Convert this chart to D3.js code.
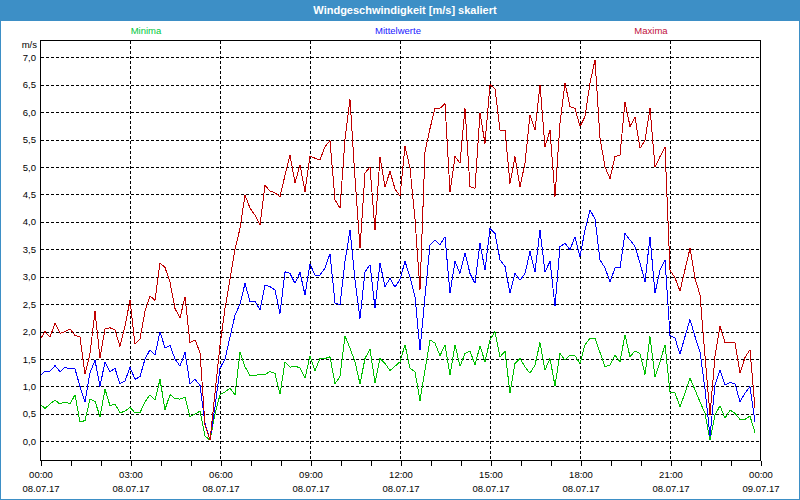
<!DOCTYPE html>
<html><head><meta charset="utf-8">
<script src="https://cdn.jsdelivr.net/npm/d3@7"></script>
<style>body{margin:0;background:#fff}svg{display:block}</style>
</head><body>
<svg id="chart" width="800" height="500"></svg>
<script>
const chartTitle = "Windgeschwindigkeit [m/s] skaliert";
const unitLabel = "m/s";
const seriesNames = ["Minima", "Mittelwerte", "Maxima"];
const startTime = "2017-07-08T00:00:00";
const endTime = "2017-07-09T00:00:00";
const stepMinutes = 10;

const minima = [
0.68,0.6,0.68,0.75,0.68,0.72,0.68,0.85,0.35,0.38,
0.77,0.73,0.45,0.95,0.65,0.68,0.52,0.55,0.62,0.52,
0.52,0.72,0.85,0.75,1.13,0.58,0.85,0.78,0.77,0.8,
0.45,0.5,0.55,0.1,0.02,0.5,0.85,0.9,0.97,0.85,
1.62,1.36,1.2,1.2,1.22,1.22,1.27,1.24,0.86,1.45,
1.35,1.37,1.34,1.15,1.56,1.29,1.51,1.51,1.54,1.05,
1.18,1.92,1.7,1.45,1.05,1.51,1.68,1.07,1.51,1.42,
1.29,1.37,1.45,1.76,1.33,1.27,0.74,1.3,1.85,1.79,
1.56,1.76,1.21,1.76,1.37,1.6,1.65,1.39,1.74,1.45,
1.85,2.0,1.54,1.64,0.88,1.42,1.51,1.36,1.24,1.39,
1.8,1.3,1.51,1.01,1.6,1.48,1.57,1.56,1.42,1.76,
1.88,1.88,1.62,1.36,1.39,1.57,1.45,1.94,1.54,1.65,
1.6,1.22,1.91,1.18,1.45,1.76,0.9,0.88,0.63,0.88,
1.15,0.94,0.72,0.51,0.02,0.48,0.65,0.42,0.57,0.51,
0.4,0.4,0.46,0.16];

const mittelwerte = [
1.2,1.28,1.28,1.38,1.27,1.35,1.32,1.32,1.0,0.72,
1.25,1.48,1.0,1.45,1.27,1.33,1.05,1.1,1.35,1.13,
1.18,1.5,1.67,1.57,2.0,1.7,1.75,1.5,1.37,1.62,
1.05,1.13,1.02,0.33,0.02,0.63,1.33,1.5,1.9,2.3,
2.5,2.88,2.55,2.55,2.4,2.85,2.82,2.76,2.33,3.09,
3.06,2.88,3.08,2.67,3.23,3.03,3.03,3.16,3.42,2.52,
2.49,3.28,3.85,2.94,2.24,3.09,3.22,2.43,3.25,2.82,
2.97,2.81,2.95,3.28,3.0,2.64,1.67,2.64,3.58,3.67,
3.58,3.73,2.7,3.28,3.06,3.43,3.06,2.88,3.61,3.12,
3.88,3.79,3.31,3.19,2.7,3.06,2.94,3.06,3.46,3.09,
3.85,3.09,3.28,2.46,3.55,3.61,3.49,3.73,3.37,3.85,
4.22,4.05,3.31,3.16,2.91,3.16,3.16,3.79,3.67,3.55,
3.25,2.91,3.73,2.7,3.12,3.31,1.93,1.88,1.59,1.91,
2.22,1.91,1.63,0.95,0.1,1.02,1.3,1.03,1.07,1.05,
0.72,0.88,1.0,0.36];

const maxima = [
1.85,2.0,1.9,2.15,1.97,2.0,2.05,1.93,1.9,1.22,
1.6,2.37,1.52,2.05,2.07,2.03,1.73,2.1,2.57,1.77,
1.87,2.37,2.65,2.57,3.25,3.17,2.9,2.42,2.25,2.63,
1.8,1.85,1.62,0.3,0.02,0.88,1.75,2.42,2.95,3.5,
3.88,4.49,4.25,4.12,3.94,4.67,4.56,4.53,4.46,4.85,
5.22,4.71,5.04,4.55,5.2,5.16,5.13,5.37,5.48,4.4,
4.25,5.5,6.23,4.8,3.52,4.89,5.0,3.85,5.18,4.64,
4.92,4.6,4.47,5.38,4.98,4.05,2.76,5.28,5.7,6.07,
6.07,6.16,4.55,5.19,5.07,6.07,4.64,4.61,5.98,5.43,
6.5,6.43,5.67,5.67,4.7,5.19,4.64,5.07,5.95,5.67,
6.5,5.37,5.67,4.46,5.8,6.53,6.1,6.07,5.74,5.92,
6.53,6.95,5.53,5.0,4.79,5.19,5.22,6.19,5.74,5.91,
5.34,5.49,6.07,5.0,5.19,5.36,3.12,2.98,2.74,3.13,
3.52,2.97,2.67,1.55,0.48,1.55,2.1,1.8,1.8,1.8,
1.24,1.53,1.67,0.6];

const yTickValues = [0,0.5,1,1.5,2,2.5,3,3.5,4,4.5,5,5.5,6,6.5,7];
const yDomain = [-0.34, 7.315];
const seriesColors = ["#00c000", "#0000ff", "#c00000"];
const legendColors = ["#00c840", "#2020ff", "#c0103a"];

const W = 800, H = 500;
const plot = {left: 40, right: 760, top: 40, bottom: 460};
const frameColor = "#3d8fc6";
const font = "'Liberation Sans', Arial, sans-serif";

const svg = d3.select("#chart");
svg.append("rect").attr("width", W).attr("height", H).attr("fill", "#ffffff");

const parse = d3.isoParse;
const t0 = parse(startTime), t1 = parse(endTime);
const x = d3.scaleTime().domain([t0, t1]).range([plot.left, plot.right]);
const y = d3.scaleLinear().domain(yDomain).range([plot.bottom, plot.top]);
const timeAt = i => d3.timeMinute.offset(t0, i * stepMinutes);

// title bar
svg.append("rect").attr("x", 0).attr("y", 0).attr("width", W).attr("height", 21).attr("fill", frameColor);
svg.append("rect").attr("x", 0.5).attr("y", 0.5).attr("width", W - 1).attr("height", H - 1)
  .attr("fill", "none").attr("stroke", frameColor).attr("stroke-width", 1);
svg.append("text").attr("x", 405).attr("y", 14).attr("text-anchor", "middle")
  .attr("fill", "#ffffff").attr("font-family", font).attr("font-weight", "bold").attr("font-size", "11px")
  .text(chartTitle);

// legend
const legendX = [146, 398, 651];
seriesNames.forEach((n, k) => {
  svg.append("text").attr("x", legendX[k]).attr("y", 34).attr("text-anchor", "middle")
    .attr("fill", legendColors[k]).attr("font-family", font).attr("font-size", "9.5px").text(n);
});

// grid
const snap = v => Math.round(v) + 0.5;
const grid = svg.append("g").attr("stroke", "#000").attr("stroke-width", 1)
  .attr("stroke-dasharray", "3,2").attr("shape-rendering", "crispEdges");
yTickValues.forEach(v => {
  grid.append("line").attr("x1", plot.left + 1).attr("x2", plot.right).attr("y1", snap(y(v))).attr("y2", snap(y(v)));
});
const hourTicks = d3.timeHour.every(1).range(t0, d3.timeHour.offset(t1, 1));
hourTicks.filter(d => d.getHours() % 3 === 0 && d > t0 && d < t1).forEach(d => {
  grid.append("line").attr("x1", snap(x(d))).attr("x2", snap(x(d))).attr("y1", plot.top + 1).attr("y2", plot.bottom);
});

// series
const line = d3.line().x((d, i) => x(timeAt(i))).y(d => y(d));
[minima, mittelwerte, maxima].forEach((s, k) => {
  svg.append("path").datum(s).attr("d", line).attr("fill", "none")
    .attr("stroke", seriesColors[k]).attr("stroke-width", 1).attr("shape-rendering", "crispEdges");
});

// frame
svg.append("rect").attr("x", plot.left + 0.5).attr("y", plot.top + 0.5)
  .attr("width", plot.right - plot.left).attr("height", plot.bottom - plot.top)
  .attr("fill", "none").attr("stroke", "#000").attr("shape-rendering", "crispEdges");

// x axis
const fTime = d3.timeFormat("%H:%M"), fDate = d3.timeFormat("%d.%m.%y");
const xAxis = d3.axisBottom(x).tickValues(hourTicks).tickSize(5).tickPadding(6).tickFormat(() => "");
const gx = svg.append("g").attr("transform", `translate(0.5,${plot.bottom + 0.5})`).call(xAxis);
gx.select(".domain").remove();
gx.selectAll(".tick line").attr("stroke", "#000").attr("shape-rendering", "crispEdges");
gx.selectAll(".tick text").each(function(d) {
  if (d.getHours() % 3 !== 0) return;
  const t = d3.select(this).attr("font-family", font).attr("font-size", "9.5px").attr("fill", "#000").attr("dy", null).attr("y", 0);
  t.append("tspan").attr("x", 0).attr("y", 17).text(fTime(d));
  t.append("tspan").attr("x", 0).attr("y", 31).text(fDate(d));
});

// y axis
const fY = v => d3.format(".1f")(v).replace(".", ",");
const yAxis = d3.axisLeft(y).tickValues(yTickValues).tickSize(0).tickPadding(4).tickFormat(fY);
const gy = svg.append("g").attr("transform", `translate(${plot.left},0)`).call(yAxis);
gy.select(".domain").remove();
gy.selectAll(".tick text").attr("font-family", font).attr("font-size", "9.5px").attr("fill", "#000")
  .attr("dy", "0.32em");
svg.append("text").attr("x", 37).attr("y", 48).attr("text-anchor", "end")
  .attr("font-family", font).attr("font-size", "9.5px").attr("fill", "#000").text(unitLabel);
</script>
</body></html>
